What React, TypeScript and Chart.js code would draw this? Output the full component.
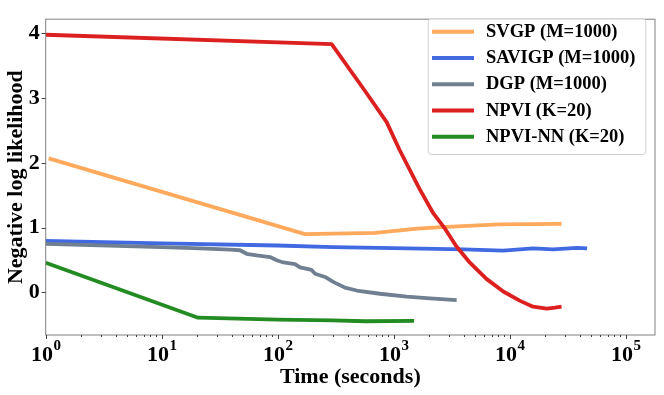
import React, { useEffect, useRef } from 'react';
import { Chart, registerables } from 'chart.js';

Chart.register(...registerables);

const seriesLabels = ['SVGP (M=1000)', 'SAVIGP (M=1000)', 'DGP (M=1000)', 'NPVI (K=20)', 'NPVI-NN (K=20)'];
const seriesColors = ['#FFA95C', '#4169E1', '#708090', '#DC1F1F', '#228B22'];

const svgpTime = [1.06, 172, 300, 695, 1590, 2600, 8040, 28000];
const svgpNll = [2.07, 0.9, 0.91, 0.92, 0.985, 1.01, 1.05, 1.06];

const savigpTime = [1, 10, 100, 300, 1000, 4000, 8800, 15900, 23700, 38000, 46500];
const savigpNll = [0.795, 0.757, 0.725, 0.7, 0.685, 0.665, 0.645, 0.68, 0.665, 0.69, 0.68];

const dgpTime = [1, 10, 21.5, 38.8, 47.3, 54, 65.9, 85.9, 98, 112, 141, 156, 196, 210, 256, 301, 380, 480, 762, 1294, 2056, 3490];
const dgpNll = [0.75, 0.7, 0.68, 0.661, 0.652, 0.597, 0.572, 0.547, 0.497, 0.463, 0.438, 0.388, 0.348, 0.289, 0.239, 0.164, 0.075, 0.03, -0.02, -0.065, -0.09, -0.119];

const npviTime = [1, 292, 547, 870, 1125, 1670, 2200, 2770, 3480, 4540, 6300, 8810, 12300, 15900, 20900, 24600, 28000];
const npviNll = [3.98, 3.836, 3.15, 2.63, 2.2, 1.6, 1.22, 0.985, 0.71, 0.46, 0.21, 0.015, -0.13, -0.22, -0.25, -0.235, -0.22];

const npviNnTime = [1, 20.6, 100, 294, 570, 1500];
const npviNnNll = [0.46, -0.39, -0.42, -0.43, -0.445, -0.44];

const seriesTimes = [svgpTime, savigpTime, dgpTime, npviTime, npviNnTime];
const seriesValues = [svgpNll, savigpNll, dgpNll, npviNll, npviNnNll];

const xMajorTicks = [1, 10, 100, 1000, 10000, 100000];
const xTickExponents = ['0', '1', '2', '3', '4', '5'];
const xMinorMultipliers = [2, 3, 4, 5, 6, 7, 8, 9];
const yTickValues = [0, 1, 2, 3, 4];

const xTitle = 'Time (seconds)';
const yTitle = 'Negative log likelihood';

const FONT = '"Liberation Serif", "Times New Roman", serif';

const decorPlugin = {
  id: 'decor',
  afterDraw(chart: any) {
    const { ctx, chartArea: a, scales } = chart;
    const xs = scales.x;
    const ys = scales.y;
    ctx.save();
    // frame
    ctx.strokeStyle = '#808080';
    ctx.lineWidth = 1;
    ctx.strokeRect(a.left, a.top, a.right - a.left, a.bottom - a.top);

    // x tick marks
    ctx.strokeStyle = '#404040';
    ctx.lineWidth = 1;
    for (const t of xs.ticks) {
      const px = Math.round(xs.getPixelForValue(t.value)) + 0.5;
      const major = xMajorTicks.includes(t.value);
      ctx.beginPath();
      ctx.moveTo(px, a.bottom);
      ctx.lineTo(px, a.bottom + (major ? 4 : 2));
      ctx.stroke();
    }
    // y tick marks
    for (const t of ys.ticks) {
      const py = Math.round(ys.getPixelForValue(t.value)) + 0.5;
      ctx.beginPath();
      ctx.moveTo(a.left, py);
      ctx.lineTo(a.left - 4, py);
      ctx.stroke();
    }

    // x tick labels 10^n
    ctx.fillStyle = '#000';
    ctx.textBaseline = 'alphabetic';
    ctx.textAlign = 'left';
    xMajorTicks.forEach((v, i) => {
      const px = xs.getPixelForValue(v);
      const exp = xTickExponents[i];
      ctx.font = `bold 22px ${FONT}`;
      const wBase = ctx.measureText('10').width;
      ctx.font = `bold 15px ${FONT}`;
      const wSup = ctx.measureText(exp).width;
      const start = px - (wBase + wSup) / 2;
      ctx.font = `bold 22px ${FONT}`;
      ctx.fillText('10', start, 361);
      ctx.font = `bold 15px ${FONT}`;
      ctx.fillText(exp, start + wBase + 0.5, 350);
    });

    // legend
    const bx = 427.7, by = 18.3, bw = 217.6, bh = 135.7;
    ctx.beginPath();
    if (ctx.roundRect) ctx.roundRect(bx + 0.5, by + 0.5, bw, bh, 3);
    else ctx.rect(bx + 0.5, by + 0.5, bw, bh);
    ctx.fillStyle = 'rgba(255,255,255,0.8)';
    ctx.fill();
    ctx.strokeStyle = '#d0d0d0';
    ctx.lineWidth = 1;
    ctx.stroke();
    ctx.font = `bold 18.5px ${FONT}`;
    ctx.textBaseline = 'middle';
    seriesLabels.forEach((lab, i) => {
      const cy = 31.7 + i * 26.25;
      ctx.strokeStyle = seriesColors[i];
      ctx.lineWidth = 4;
      ctx.beginPath();
      ctx.moveTo(432, cy);
      ctx.lineTo(474, cy);
      ctx.stroke();
      ctx.fillStyle = '#000';
      ctx.fillText(lab, 486, cy + 0.5);
    });
    ctx.restore();
  },
};

export default function App() {
  const ref = useRef<HTMLCanvasElement | null>(null);
  useEffect(() => {
    if (!ref.current) return;
    const datasets = seriesLabels.map((label, i) => ({
      label,
      data: seriesTimes[i].map((t, j) => ({ x: t, y: seriesValues[i][j] })),
      borderColor: seriesColors[i],
      backgroundColor: seriesColors[i],
      borderWidth: 3.8,
      pointRadius: 0,
      tension: 0,
      fill: false,
      borderJoinStyle: 'round' as const,
      order: seriesLabels.length - 1 - i,
    }));
    const chart = new Chart(ref.current, {
      type: 'line',
      data: { datasets },
      plugins: [decorPlugin],
      options: {
        animation: false,
        responsive: true,
        maintainAspectRatio: false,
        layout: { padding: { top: 8.3, right: 9, left: 0, bottom: 0 } },
        plugins: { legend: { display: false }, tooltip: { enabled: false } },
        scales: {
          x: {
            type: 'logarithmic',
            min: 1,
            max: 179000,
            grid: { display: false, drawTicks: false },
            border: { display: false },
            ticks: { display: false },
            afterBuildTicks: (s: any) => {
              const list: { value: number }[] = [];
              xMajorTicks.forEach((m) => {
                list.push({ value: m });
                xMinorMultipliers.forEach((k) => {
                  if (m * k <= s.max) list.push({ value: m * k });
                });
              });
              s.ticks = list;
            },
            afterFit: (s: any) => {
              s.height = 60;
            },
            title: {
              display: true,
              text: xTitle,
              color: '#000',
              font: { family: FONT, size: 22, weight: 'bold' },
              padding: { top: 0, bottom: 4 },
            },
          },
          y: {
            type: 'linear',
            min: -0.657,
            max: 4.22,
            grid: { display: false, drawTicks: false },
            border: { display: false },
            ticks: {
              color: '#000',
              font: { family: FONT, size: 22, weight: 'bold' },
              padding: 6,
              callback: (v: any) => String(v),
            },
            afterBuildTicks: (s: any) => {
              s.ticks = yTickValues.map((value) => ({ value }));
            },
            afterFit: (s: any) => {
              s.width = 45.7;
            },
            title: {
              display: true,
              text: yTitle,
              color: '#000',
              font: { family: FONT, size: 22, weight: 'bold' },
              padding: { top: 3, bottom: 0 },
            },
          },
        },
      },
    });
    return () => chart.destroy();
  }, []);
  return (
    <div style={{ position: 'fixed', left: 0, top: 0, width: 664, height: 395, background: '#fff' }}>
      <canvas ref={ref} />
    </div>
  );
}
